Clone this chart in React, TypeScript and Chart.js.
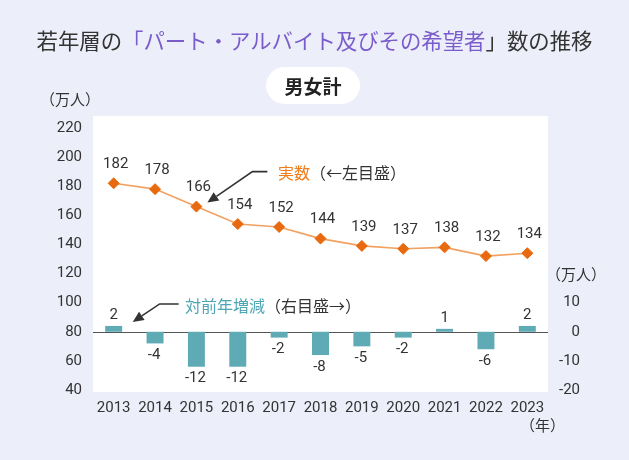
import React, { useEffect, useRef } from 'react';
import { Chart, registerables } from 'chart.js';

Chart.register(...registerables);

const years = ['2013', '2014', '2015', '2016', '2017', '2018', '2019', '2020', '2021', '2022', '2023'];
const actualValues = [182, 178, 166, 154, 152, 144, 139, 137, 138, 132, 134];
const changeValues = [2, -4, -12, -12, -2, -8, -5, -2, 1, -6, 2];
const leftTickValues = [40, 60, 80, 100, 120, 140, 160, 180, 200, 220];
const rightTickValues = [-20, -10, 0, 10];

const NUM_FONT = '"Liberation Sans Narrow", Roboto, sans-serif';
const JP_FONT = '"Noto Sans CJK JP", "Noto Sans", sans-serif';
const BG = '#eceef9';
const ORANGE_MARK = '#e8690e';
const ORANGE_LINE = '#f3a161';
const ORANGE_TEXT = '#f07c1c';
const TEAL = '#5eaab5';
const TEAL_TEXT = '#4ca6b3';
const PURPLE = '#7a5ccb';
const DARK = '#333333';

const plotBgPlugin = {
  id: 'plotBg',
  beforeDraw(chart: any) {
    const { ctx, chartArea } = chart;
    const { left, right, top, bottom } = chartArea;
    ctx.save();
    ctx.fillStyle = '#ffffff';
    ctx.fillRect(left, top - 12, right - left, bottom - top + 14);
    ctx.restore();
  },
  beforeDatasetsDraw(chart: any) {
    const { ctx, chartArea } = chart;
    const y0 = Math.round(chart.scales.y1.getPixelForValue(0)) + 0.5;
    ctx.save();
    ctx.strokeStyle = '#555555';
    ctx.lineWidth = 1;
    ctx.beginPath();
    ctx.moveTo(chartArea.left, y0);
    ctx.lineTo(chartArea.right, y0);
    ctx.stroke();
    ctx.restore();
  },
};

function drawArrow(ctx: any, pts: number[][]) {
  ctx.save();
  ctx.strokeStyle = DARK;
  ctx.fillStyle = DARK;
  ctx.lineWidth = 1.6;
  const n = pts.length;
  const tip = pts[n - 1];
  const prev = pts[n - 2];
  const ang = Math.atan2(tip[1] - prev[1], tip[0] - prev[0]);
  const headLen = 11;
  const headW = 5;
  const baseX = tip[0] - Math.cos(ang) * headLen;
  const baseY = tip[1] - Math.sin(ang) * headLen;
  ctx.beginPath();
  ctx.moveTo(pts[0][0], pts[0][1]);
  for (let i = 1; i < n - 1; i++) ctx.lineTo(pts[i][0], pts[i][1]);
  ctx.lineTo(baseX, baseY);
  ctx.stroke();
  ctx.beginPath();
  ctx.moveTo(tip[0], tip[1]);
  ctx.lineTo(baseX + Math.sin(ang) * headW, baseY - Math.cos(ang) * headW);
  ctx.lineTo(baseX - Math.sin(ang) * headW, baseY + Math.cos(ang) * headW);
  ctx.closePath();
  ctx.fill();
  ctx.restore();
}

const labelsPlugin = {
  id: 'valueLabels',
  afterDatasetsDraw(chart: any) {
    const { ctx } = chart;
    ctx.save();
    ctx.font = `15px ${NUM_FONT}`;
    ctx.fillStyle = DARK;
    ctx.textAlign = 'center';
    ctx.textBaseline = 'middle';
    const lineMeta = chart.getDatasetMeta(1);
    lineMeta.data.forEach((pt: any, i: number) => {
      ctx.fillText(String(actualValues[i]), pt.x + 2, pt.y - 19);
    });
    const barMeta = chart.getDatasetMeta(0);
    barMeta.data.forEach((bar: any, i: number) => {
      const v = changeValues[i];
      if (v >= 0) ctx.fillText(String(v), bar.x, bar.y - 11);
      else ctx.fillText(String(v), bar.x - 1, bar.y + 12);
    });
    ctx.restore();

    // annotation arrows, anchored to the data they point at
    const p = lineMeta.data[2];
    const t1 = [p.x + 11, p.y - 4];
    const e1 = [t1[0] + 45, t1[1] - 31];
    drawArrow(ctx, [[e1[0] + 15, e1[1]], e1, t1]);
    const b = barMeta.data[0];
    const t2 = [b.x + 19, b.y - 4];
    const e2 = [t2[0] + 27, t2[1] - 18];
    drawArrow(ctx, [[e2[0] + 19, e2[1]], e2, t2]);
  },
};

export default function App() {
  const canvasRef = useRef<HTMLCanvasElement | null>(null);

  useEffect(() => {
    if (!canvasRef.current) return;
    const chart = new Chart(canvasRef.current, {
      type: 'bar',
      data: {
        labels: years,
        datasets: [
          {
            type: 'bar',
            label: '対前年増減',
            data: changeValues,
            yAxisID: 'y1',
            backgroundColor: TEAL,
            borderWidth: 0,
            categoryPercentage: 1,
            barPercentage: 0.41,
            order: 2,
          },
          {
            type: 'line',
            label: '実数',
            data: actualValues,
            yAxisID: 'y',
            borderColor: ORANGE_LINE,
            borderWidth: 1.6,
            pointStyle: 'rectRot',
            pointRadius: 5.5,
            pointBackgroundColor: ORANGE_MARK,
            pointBorderColor: ORANGE_MARK,
            pointBorderWidth: 1,
            tension: 0,
            order: 1,
          } as any,
        ],
      },
      options: {
        responsive: false,
        animation: false,
        devicePixelRatio: 1,
        layout: { padding: { left: 0, right: 49, top: 128, bottom: 30 } },
        plugins: {
          legend: { display: false },
          tooltip: { enabled: false },
          title: { display: false },
        },
        scales: {
          x: {
            offset: true,
            grid: { display: false, drawTicks: false },
            border: { display: false },
            ticks: { color: DARK, font: { size: 15, family: NUM_FONT }, padding: 9, maxRotation: 0 },
            afterFit(s: any) { s.height = 40; },
          },
          y: {
            position: 'left',
            min: 40,
            max: 220,
            grid: { display: false, drawTicks: false },
            border: { display: false },
            ticks: { stepSize: 20, color: DARK, font: { size: 15, family: NUM_FONT }, padding: 11 },
            afterBuildTicks(s: any) { s.ticks = leftTickValues.map((v) => ({ value: v })); },
            afterFit(s: any) { s.width = 93; },
          },
          y1: {
            position: 'right',
            min: -20,
            max: 70,
            grid: { display: false, drawTicks: false },
            border: { display: false },
            ticks: { color: DARK, font: { size: 15, family: NUM_FONT }, padding: 10, crossAlign: 'far' },
            afterBuildTicks(s: any) { s.ticks = rightTickValues.map((v) => ({ value: v })); },
            afterFit(s: any) { s.width = 32; },
          },
        },
      },
      plugins: [plotBgPlugin, labelsPlugin],
    });
    return () => chart.destroy();
  }, []);

  const abs = (o: any): React.CSSProperties => ({ position: 'absolute', whiteSpace: 'nowrap', ...o });

  return (
    <div style={{ position: 'fixed', left: 0, top: 0, width: 629, height: 460, background: BG, overflow: 'hidden', fontFamily: JP_FONT }}>
      <canvas ref={canvasRef} width={629} height={460} style={{ position: 'absolute', left: 0, top: 0, width: 629, height: 460 }} />
      <div style={abs({ left: 0, width: 629, top: 26, textAlign: 'center', fontSize: 21.4, lineHeight: '28px', color: DARK })}>
        若年層の<span style={{ color: PURPLE }}>「パート・アルバイト及びその希望者</span>」数の推移
      </div>
      <div style={abs({ left: 266, top: 67, width: 94, height: 37, borderRadius: 19, background: '#ffffff', textAlign: 'center', lineHeight: '37px', fontSize: 19, fontWeight: 700, color: '#222' })}>
        男女計
      </div>
      <div style={abs({ left: 40, top: 91, fontSize: 15, lineHeight: '16px', color: DARK })}>（万人）</div>
      <div style={abs({ left: 546, top: 266, fontSize: 15, lineHeight: '16px', color: DARK })}>（万人）</div>
      <div style={abs({ left: 520, top: 417, fontSize: 15, lineHeight: '16px', color: DARK })}>（年）</div>
      <div style={abs({ left: 278, top: 164, fontSize: 16, lineHeight: '17px', color: DARK })}>
        <span style={{ color: ORANGE_TEXT }}>実数</span>（←左目盛）
      </div>
      <div style={abs({ left: 185, top: 297, fontSize: 16, lineHeight: '17px', color: DARK })}>
        <span style={{ color: TEAL_TEXT }}>対前年増減</span>（右目盛→）
      </div>
    </div>
  );
}
